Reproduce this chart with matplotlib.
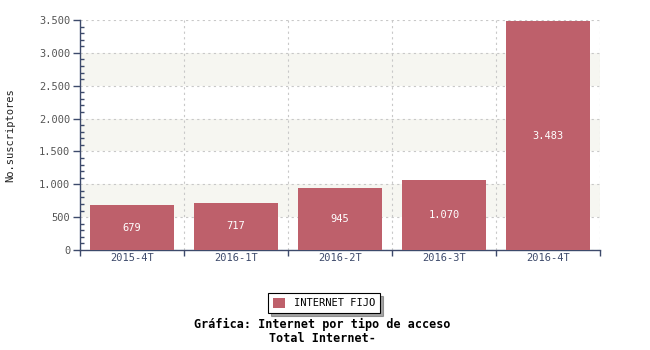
import matplotlib
matplotlib.use("Agg")
import matplotlib.pyplot as plt
from matplotlib.ticker import MultipleLocator, FuncFormatter

categories = ["2015-4T", "2016-1T", "2016-2T", "2016-3T", "2016-4T"]
values = [679, 717, 945, 1070, 3483]
series_name = "INTERNET FIJO"
title_lines = ["Gráfica: Internet por tipo de acceso", "Total Internet-"]
ylabel = "No.suscriptores"

def fmt(v):
    return f"{int(v):,}".replace(",", ".")

bar_color = "#BE606B"
axis_color = "#3D4A6B"
mono = "DejaVu Sans Mono"
fs = 7.5

fig = plt.figure(figsize=(6.5, 3.5), dpi=100)
ax = fig.add_axes([80/650, 1-250/350, 520/650, 230/350])

ax.set_xlim(-0.5, len(categories)-0.5)
ax.set_ylim(0, 3500)

# bands
for lo in (500, 1500, 2500):
    ax.axhspan(lo, lo+500, color="#F6F6F1", zorder=0, lw=0)

x = list(range(len(categories)))
bars = ax.bar(x, values, width=0.81, color=bar_color, zorder=3, label=series_name)
for xi, v in zip(x, values):
    ax.text(xi, v/2, fmt(v), ha="center", va="center", color="white",
            fontsize=fs, family=mono, zorder=4)

# grid
ax.yaxis.set_major_locator(MultipleLocator(500))
ax.yaxis.set_minor_locator(MultipleLocator(100))
ax.yaxis.set_major_formatter(FuncFormatter(lambda v, p: fmt(v)))
ax.grid(axis="y", which="major", ls=(0, (2, 3)), color="#C8C8C8", lw=0.8, zorder=1)
for b in [i - 0.5 for i in range(len(categories)+1)]:
    ax.axvline(b, ls=(0, (2, 3)), color="#C8C8C8", lw=0.8, zorder=1)

ax.set_xticks(x)
ax.set_xticklabels(categories)
ax.set_xticks([i - 0.5 for i in range(len(categories)+1)], minor=True)
ax.tick_params(axis="x", which="major", length=0, labelsize=fs, labelcolor=axis_color, pad=2)
ax.tick_params(axis="x", which="minor", length=4, direction="out", color=axis_color, width=1)
ax.tick_params(axis="y", which="major", length=5, direction="out", color=axis_color,
               labelsize=fs, labelcolor="#555555", pad=2, width=1)
ax.tick_params(axis="y", which="minor", length=3, direction="in", color=axis_color, width=1)
for lab in ax.get_xticklabels() + ax.get_yticklabels():
    lab.set_family(mono)

for s in ("top", "right"):
    ax.spines[s].set_visible(False)
for s in ("left", "bottom"):
    ax.spines[s].set_color(axis_color)
    ax.spines[s].set_linewidth(1)

fig.text(10/650, 1-135/350, ylabel, rotation=90, ha="center", va="center",
         fontsize=fs, family=mono, color="#222222")

leg = fig.legend(handles=[bars], labels=[series_name], loc="center",
                 bbox_to_anchor=(324/650, 1-303/350), frameon=True, shadow=True,
                 prop={"family": mono, "size": fs}, handlelength=1.2, handleheight=1.1,
                 fancybox=False, borderpad=0.45, handletextpad=0.8, borderaxespad=0)
leg.get_frame().set_edgecolor("black")
leg.get_frame().set_linewidth(0.8)

fig.text(322/650, 1-324/350, title_lines[0], ha="center", va="center",
         fontsize=8.5, family=mono, weight="bold")
fig.text(322/650, 1-338/350, title_lines[1], ha="center", va="center",
         fontsize=8.5, family=mono, weight="bold")

fig.savefig("out.png", dpi=100)
